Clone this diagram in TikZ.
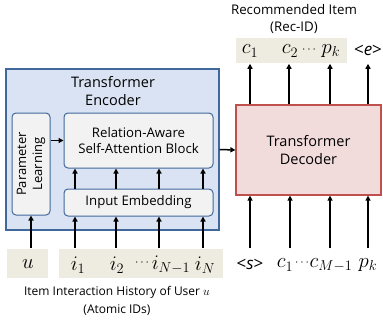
\documentclass[tikz,border=0pt]{standalone}
\usepackage{fontspec}
\setmainfont{Open Sans}
\usetikzlibrary{arrows.meta}
\definecolor{encfill}{HTML}{DAE3F3}
\definecolor{encline}{HTML}{41689C}
\definecolor{boxfill}{HTML}{F2F2F2}
\definecolor{decfill}{HTML}{F2DCDB}
\definecolor{decline}{HTML}{C0504D}
\definecolor{tokfill}{HTML}{EEECE1}
\tikzset{
  encbox/.style={draw=encline, fill=encfill, line width=1.2pt},
  innerbox/.style={draw=encline, fill=boxfill, line width=1pt, rounded corners=4pt,
    font=\fontsize{13.2}{16}\selectfont, align=center},
  decbox/.style={draw=decline, fill=decfill, line width=1.2pt,
    font=\fontsize{14.5}{18}\selectfont, align=center},
  tokbox/.style={fill=tokfill, inner sep=0pt},
  tok/.style={font=\fontsize{20}{20}\selectfont, inner sep=0pt},
  tokdots/.style={font=\fontsize{12}{12}\selectfont, inner sep=0pt},
  brk/.style={font=\fontsize{17}{18}\selectfont, inner sep=0pt},
  caption/.style={font=\fontsize{12}{18}\selectfont, align=center}
}
\begin{document}
\begin{tikzpicture}[x=1pt,y=-1pt,>={Triangle[length=5pt,width=5pt]},line width=1.5pt]
  \useasboundingbox (0,0) rectangle (383,327);
  % encoder
  \node[encbox, minimum width=213pt, minimum height=161pt] (enc) at (112.5,149.5) {};
  \node[font=\fontsize{14.5}{18}\selectfont, align=center] (enctitle) at (113,91) {Transformer\\Encoder};
  \node[innerbox, minimum width=38pt, minimum height=102pt] (pl) at (31,164) {};
  \node[rotate=90, font=\fontsize{13}{16}\selectfont, align=center] (pltext) at (pl.center) {Parameter\\Learning};
  \node[innerbox, minimum width=149pt, minimum height=55pt] (ra) at (138.5,140.5) {Relation-Aware\\Self-Attention Block};
  \node[innerbox, minimum width=149pt, minimum height=27pt] (ie) at (138.5,202.5) {Input Embedding};
  \draw[->] (pl.east |- ra.west) -- (ra.west);
  % decoder
  \node[decbox, minimum width=145pt, minimum height=90pt] (dec) at (308.5,150) {Transformer\\Decoder};
  \draw[->] (enc.east) -- (dec.west);
  % input tokens
  \node[tokbox, minimum width=41pt, minimum height=29pt] (ubox) at (27.5,263.5) {};
  \node[tokbox, minimum width=164pt, minimum height=29pt] (ibox) at (141,263.5) {};
  \node[tok] (u) at (28,264) {$u$};
  \node[tok] (i1) at (78,265) {$i_1$};
  \node[tok] (i2) at (117,265) {$i_2$};
  \node[tokdots] (idots) at (142,263) {$\cdots$};
  \node[tok] (iN1) at (171,265) {$i_{N-1}$};
  \node[tok] (iN) at (205,265) {$i_N$};
  \node[brk] (s) at (250,264) {<\textit{s}>};
  \node[tok] (c1) at (285,265) {$c_1$};
  \node[tokdots] (cdots) at (302,263) {$\cdots$};
  \node[tok] (cM1) at (331,265) {$c_{M-1}$};
  \node[tok] (pk) at (368,265) {$p_k$};
  \node[caption] (hist) at (117,301) {Item Interaction History of User $u$\\(Atomic IDs)};
  \draw[->] (ubox.north -| pl.south) -- (pl.south);
  \foreach \x in {75,116,159,203} {
    \draw[->] (ibox.north -| \x,0) -- (ie.south -| \x,0);
    \draw[->] (ie.north -| \x,0) -- (ra.south -| \x,0);
  }
  \foreach \x in {250,290,330,368}
    \draw[->] (ibox.north -| \x,0) -- (dec.south -| \x,0);
  % output tokens
  \node[tokbox, minimum width=111pt, minimum height=25pt] (rbox) at (291.5,50.5) {};
  \node[tok] (o1) at (250,51) {$c_1$};
  \node[tok] (o2) at (290,51) {$c_2$};
  \node[tokdots] (odots) at (309,50) {$\cdots$};
  \node[tok] (opk) at (331,51) {$p_k$};
  \node[brk] (oe) at (368,50) {<\textit{e}>};
  \node[caption, font=\fontsize{13.3}{17}\selectfont] (rec) at (294,19) {Recommended Item\\(Rec-ID)};
  \foreach \x in {250,289,330,368}
    \draw[->] (dec.north -| \x,0) -- (rbox.south -| \x,0);
\end{tikzpicture}
\end{document}
